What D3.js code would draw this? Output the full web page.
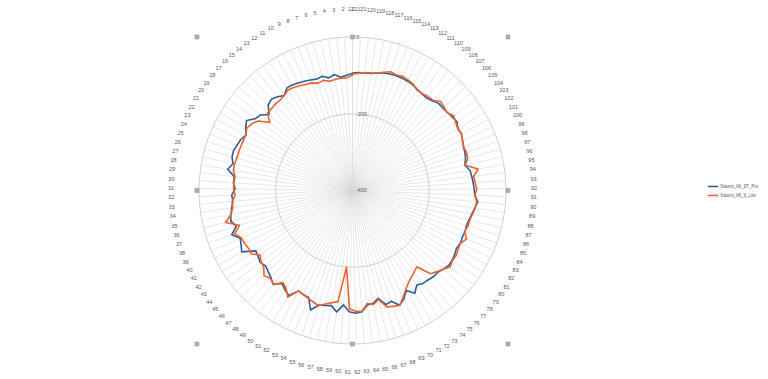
<!DOCTYPE html>
<html>
<head>
<meta charset="utf-8">
<script src="https://cdnjs.cloudflare.com/ajax/libs/d3/7.8.5/d3.min.js"></script>
<style>
body{margin:0;background:#fff;}
svg{display:block;font-family:"Liberation Sans", Arial, sans-serif;}
</style>
</head>
<body>
<script>
// categories run counter-clockwise from the top; first and last share the top spoke
var categories = [1,2,3,4,5,6,7,8,9,10,11,12,13,14,15,16,17,18,19,20,
	21,22,23,24,25,26,27,28,29,30,31,32,33,34,35,36,37,38,39,40,
	41,42,43,44,45,46,47,48,49,50,51,52,53,54,55,56,57,58,59,60,
	61,62,63,64,65,66,67,68,69,70,71,72,73,74,75,76,77,78,79,80,
	81,82,83,84,85,86,87,88,89,90,91,92,93,94,95,96,97,98,99,100,
	101,102,103,104,105,106,107,108,109,110,111,112,113,114,115,116,117,118,119,120,
	121,122];

var seriesNames = ["Xiaomi_Mi_9T_Pro", "Xiaomi_Mi_9_Lite"];

var mi9tPro = [-95,-99,-103,-94,-100,-92,-95,-92,-89,-86,
	-83,-83,-95,-87,-82,-87,-106,-90,-85,-69,
	-77,-87,-80,-77,-73,-74,-81,-70,-90,-89,
	-94,-85,-87,-82,-77,-73,-83,-65,-82,-77,
	-70,-103,-100,-95,-100,-95,-89,-80,-96,-87,
	-80,-103,-100,-99,-70,-89,-92,-95,-81,-101,
	-84,-80,-83,-99,-101,-111,-90,-94,-77,-87,
	-104,-87,-102,-96,-95,-92,-92,-87,-82,-83,
	-86,-90,-87,-89,-88,-89,-87,-83,-78,-72,
	-81,-83,-85,-87,-89,-100,-94,-91,-89,-85,
	-80,-81,-74,-77,-80,-81,-81,-87,-91,-90,
	-87,-83,-81,-80,-80,-81,-83,-87,-91,-92,
	-92,-94];

var mi9Lite = [-100,-106,-106,-107,-109,-103,-106,-100,-98,-94,
	-91,-89,-95,-98,-98,-100,-100,-121,-95,-85,
	-80,-87,-87,-87,-87,-87,-85,-85,-92,-90,
	-90,-94,-85,-85,-77,-59,-92,-73,-85,-87,
	-90,-89,-106,-98,-94,-80,-87,-80,-99,-92,
	-75,-103,-100,-96,-92,-87,-96,-103,-108,-200,
	-92,-85,-84,-103,-98,-108,-84,-80,-76,-92,
	-107,-119,-127,-134,-140,-103,-95,-87,-77,-82,
	-81,-85,-87,-77,-89,-85,-85,-81,-77,-75,
	-81,-76,-80,-82,-68,-99,-88,-87,-89,-85,
	-80,-82,-78,-72,-81,-77,-74,-85,-86,-89,
	-89,-81,-78,-75,-78,-75,-81,-87,-90,-91,
	-94,-97];

var radialTicks = [-400, -200, 0];

var width = 768;
var height = 379;
var cx = 352.5;
var cy = 190.5;
var outerR = 153.5;
var colors = ["#2b5f98", "#f0622d"];

var svg = d3.select("body")
			.append("svg")
			.attr("width", width)
			.attr("height", height);

var chart = svg.append("g")
			.attr("transform", "translate(" + cx + "," + cy + ")");

var rScale = d3.scaleLinear()
			.domain([-400, 0])
			.range([0, outerR]);

// counter-clockwise (negative angles), first and last category both at the top
var aScale = d3.scaleLinear()
			.domain([0, categories.length - 1])
			.range([0, -2 * Math.PI]);

function px(i, r){ return r * Math.sin(aScale(i)); }
function py(i, r){ return -r * Math.cos(aScale(i)); }

// spokes
chart.selectAll("line.spoke")
	.data(categories)
	.enter()
		.append("line")
		.attr("class", "spoke")
		.attr("x1", 0)
		.attr("y1", 0)
		.attr("x2", function(d, i){ return px(i, rScale(0)); })
		.attr("y2", function(d, i){ return py(i, rScale(0)); })
		.attr("stroke", "#d9d9d9")
		.attr("stroke-width", 0.6);

// grid rings (polygons through every spoke)
var ring = d3.lineRadial()
			.angle(function(d, i){ return aScale(i); })
			.curve(d3.curveLinearClosed);

chart.selectAll("path.ring")
	.data(radialTicks.filter(function(t){ return t > -400; }))
	.enter()
		.append("path")
		.attr("class", "ring")
		.attr("d", function(t){
			return ring.radius(function(){ return rScale(t); })(categories);
		})
		.attr("fill", "none")
		.attr("stroke", "#c4c4c4")
		.attr("stroke-width", 0.8);

// radial tick labels
chart.selectAll("text.rtick")
	.data(radialTicks)
	.enter()
		.append("text")
		.attr("class", "rtick")
		.attr("x", 3.5)
		.attr("y", function(t){ return -rScale(t); })
		.attr("dy", "0.35em")
		.attr("font-size", "5.5px")
		.attr("fill", "#595959")
		.text(function(t){ return t; });

// category labels
var labelR = outerR + 28;
chart.selectAll("text.cat")
	.data(categories)
	.enter()
		.append("text")
		.attr("class", "cat")
		.attr("x", function(d, i){ return px(i, labelR); })
		.attr("y", function(d, i){ return py(i, labelR); })
		.attr("dy", "0.35em")
		.attr("text-anchor", "middle")
		.attr("font-size", "5.5px")
		.attr("fill", "#595959")
		.text(function(d){ return d; });

// series lines
var seriesLine = d3.lineRadial()
			.angle(function(d, i){ return aScale(i); })
			.radius(function(d){ return rScale(d); })
			.curve(d3.curveLinearClosed);

chart.selectAll("path.series")
	.data([mi9tPro, mi9Lite])
	.enter()
		.append("path")
		.attr("class", "series")
		.attr("d", seriesLine)
		.attr("fill", "none")
		.attr("stroke", function(d, i){ return colors[i]; })
		.attr("stroke-width", 1.6)
		.attr("stroke-linejoin", "round");

// plot-area selection handles
var hx = [-outerR - 2, 0, outerR + 2];
var hy = [-outerR, 0, outerR];
var handles = [];
hx.forEach(function(x){ hy.forEach(function(y){ if (x !== 0 || y !== 0) handles.push([x, y]); }); });
chart.selectAll("rect.handle")
	.data(handles)
	.enter()
		.append("rect")
		.attr("class", "handle")
		.attr("x", function(d){ return d[0] - 2; })
		.attr("y", function(d){ return d[1] - 2; })
		.attr("width", 4)
		.attr("height", 4)
		.attr("fill", "#9fb3c6")
		.attr("stroke", "#7d93a8")
		.attr("stroke-width", 0.5);

// legend
var legend = svg.append("g")
			.attr("transform", "translate(708, 186.5)");

var items = legend.selectAll("g")
			.data(seriesNames)
			.enter()
				.append("g")
				.attr("transform", function(d, i){ return "translate(0," + (i * 9) + ")"; });

items.append("line")
	.attr("x1", 0)
	.attr("x2", 10)
	.attr("stroke", function(d, i){ return colors[i]; })
	.attr("stroke-width", 1.6);

items.append("text")
	.attr("x", 12)
	.attr("dy", "0.35em")
	.attr("font-size", "4.5px")
	.attr("fill", "#595959")
	.text(function(d){ return d; });
</script>
</body>
</html>
